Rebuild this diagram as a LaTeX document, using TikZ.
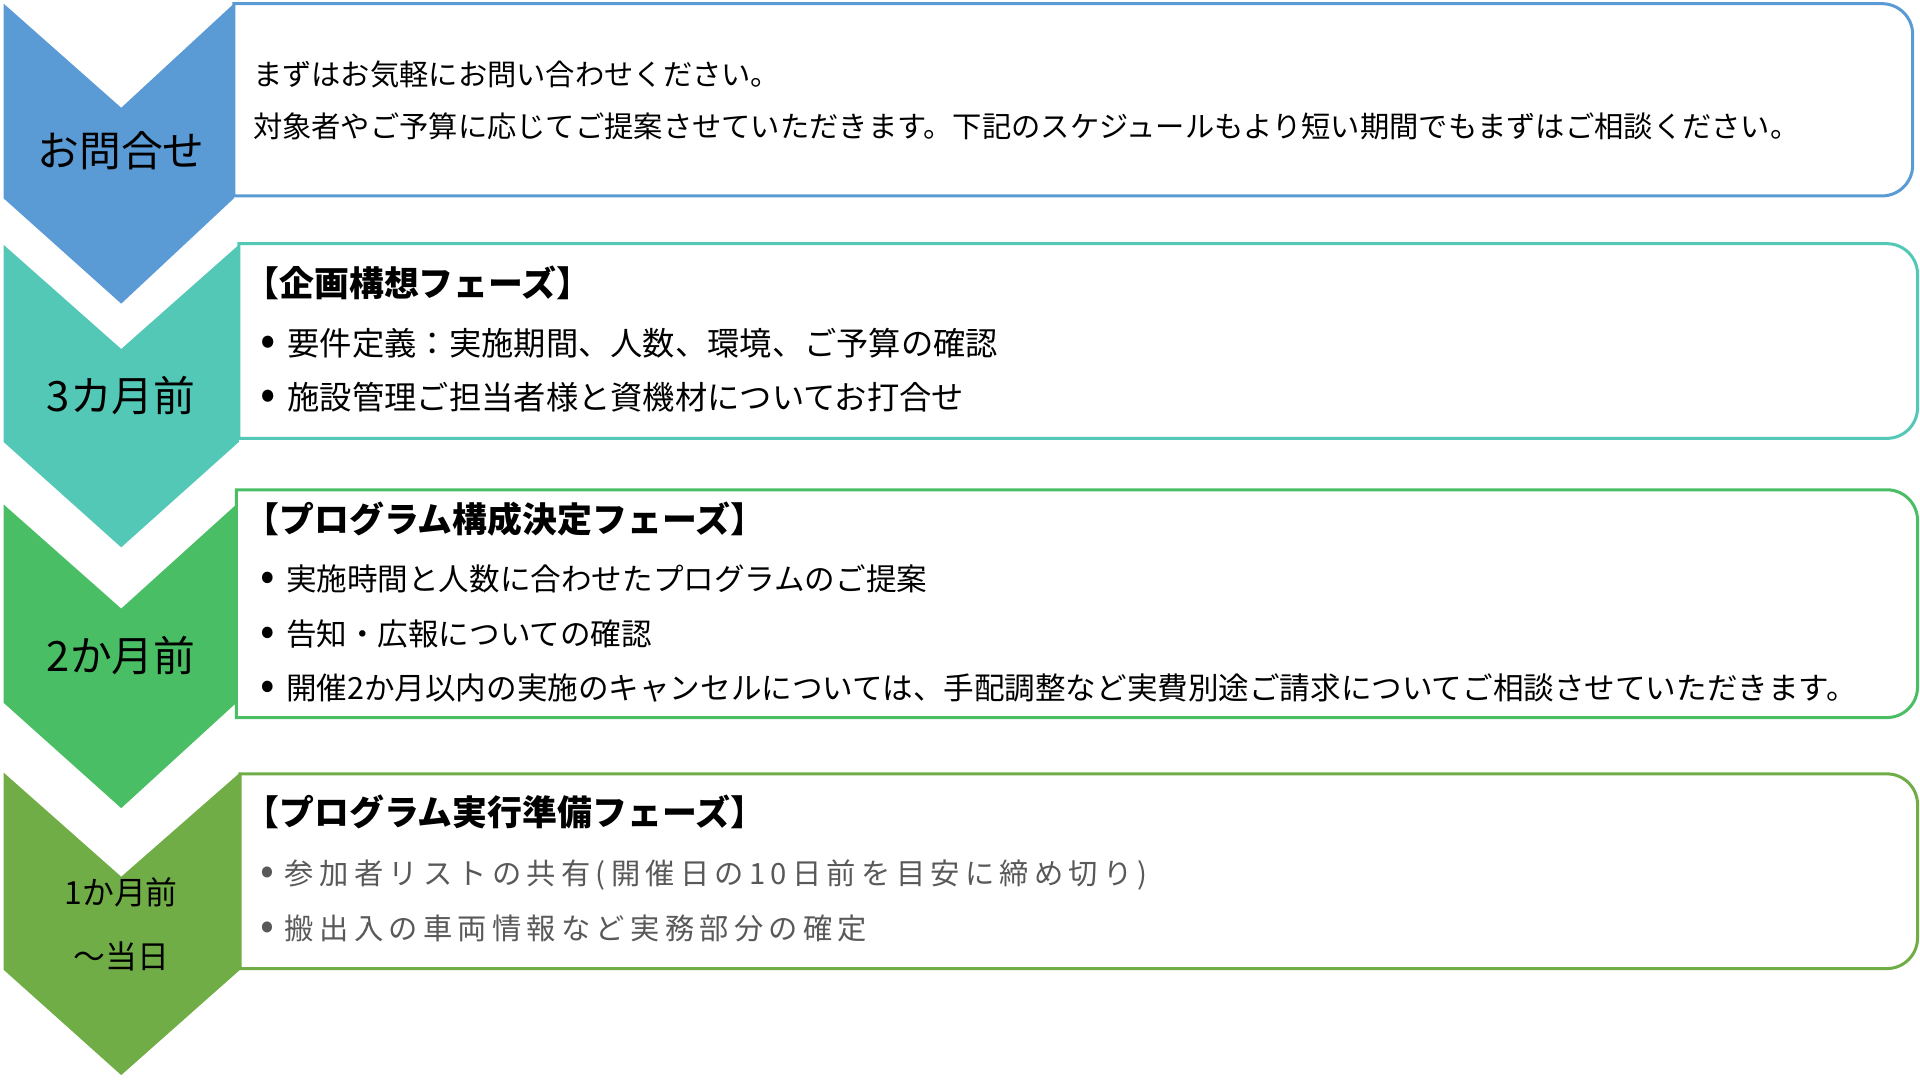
\documentclass[tikz,border=0pt]{standalone}
\usepackage{fontspec}
\setmainfont{Noto Sans CJK JP}

\definecolor{askblue}{HTML}{5B9BD5}
\definecolor{plangreen}{HTML}{54C8B6}
\definecolor{proggreen}{HTML}{49BE65}
\definecolor{prepgreen}{HTML}{70AD47}
\definecolor{notegray}{HTML}{595959}

% bullet in front of each item
\newcommand{\bul}{\makebox[0.88em][l]{\kern0.05em\scalebox{1.4}{•}}}

\begin{document}
\begin{tikzpicture}[x=0.01cm, y=0.01cm,
    every node/.style={inner sep=0pt, text height=0.83em, text depth=0.07em},
    tag/.style={font=\fontsize{9.7pt}{11pt}\selectfont},
    tagsmall/.style={yshift=0.8pt, font=\fontsize{7.4pt}{8pt}\selectfont},
    head/.style={anchor=west, yshift=1.1pt, font=\fontsize{8.1pt}{9pt}\selectfont\bfseries},
    item/.style={anchor=west, yshift=1.1pt, font=\fontsize{#1}{9pt}\selectfont},
    item/.default=7.1pt,
    spaced/.style={anchor=west, yshift=1.1pt, text=notegray,
        font=\fontsize{6.8pt}{9pt}\selectfont\addfontfeature{LetterSpace=18}}]

    % page frame
    \useasboundingbox (0,0) rectangle (1568,-882);

    % chevrons down the left side
    \foreach \col/\t/\b/\xr in {askblue/3/162/191, plangreen/200/361/195,
                                proggreen/412/574/193, prepgreen/631/792/196}
        \fill[\col] (3,-\t) -- (99,-\t-85) -- (\xr,-\t) -- (\xr,-\b)
            -- (99,-\b-86) -- (3,-\b) -- cycle;

    % boxes, rounded on the right only
    \foreach \col/\xl/\xr/\t/\b in {askblue/191/1562/3/160, plangreen/195/1566/199/358,
                                    proggreen/193/1566/400/586, prepgreen/196/1566/632/791}
        \draw[\col, line width=0.7pt, fill=white] (\xl,-\t) -- (\xr-25,-\t)
            arc[start angle=90, end angle=0, radius=25] -- (\xr,-\b+25)
            arc[start angle=0, end angle=-90, radius=25] -- (\xl,-\b) -- cycle;

    % labels on the chevrons
    \node[tag] (ask) at (99,-123) {お問合せ};
    \node[tag] (m3) at (99,-323) {3カ月前};
    \node[tag] (m2) at (99,-535) {2か月前};
    \node[tagsmall] (m1) at (99,-728) {1か月前};
    \node[tagsmall] (day) at (99,-780) {～当日};

    % first box
    \node[item=6.8pt] (t1a) at (206,-60) {まずはお気軽にお問い合わせください。};
    \node[item=6.8pt] (t1b) at (206,-103) {対象者やご予算に応じてご提案させていただきます。下記のスケジュールもより短い期間でもまずはご相談ください。};

    % planning phase
    \node[head] (h2) at (199,-233) {【企画構想フェーズ】};
    \node[item=7.5pt] (t2a) at (211,-281) {\bul 要件定義：実施期間、人数、環境、ご予算の確認};
    \node[item=7.5pt] (t2b) at (211,-325) {\bul 施設管理ご担当者様と資機材についてお打合せ};

    % program phase
    \node[head] (h3) at (199,-425) {【プログラム構成決定フェーズ】};
    \node[item] (t3a) at (211,-473) {\bul 実施時間と人数に合わせたプログラムのご提案};
    \node[item] (t3b) at (211,-518) {\bul 告知・広報についての確認};
    \node[item] (t3c) at (211,-562) {\bul 開催2か月以内の実施のキャンセルについては、手配調整など実費別途ご請求についてご相談させていただきます。};

    % preparation phase
    \node[head] (h4) at (199,-665) {【プログラム実行準備フェーズ】};
    \node[spaced] (t4a) at (211,-713) {\bul 参加者リストの共有(開催日の10日前を目安に締め切り)};
    \node[spaced] (t4b) at (211,-758) {\bul 搬出入の車両情報など実務部分の確定};

\end{tikzpicture}
\end{document}
